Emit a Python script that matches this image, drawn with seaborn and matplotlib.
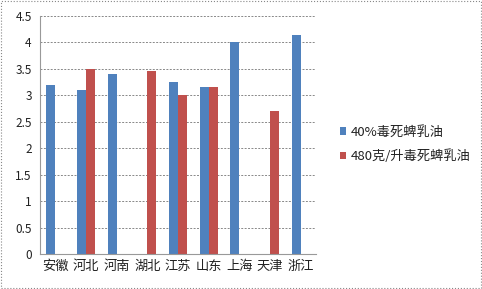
import numpy as np
import pandas as pd
import matplotlib
matplotlib.use("Agg")
import matplotlib.pyplot as plt
import seaborn as sns
from matplotlib.patches import Rectangle

provinces = ["安徽", "河北", "河南", "湖北", "江苏", "山东", "上海", "天津", "浙江"]
series_names = ["40%毒死蜱乳油", "480克/升毒死蜱乳油"]
values_40 = [3.19, 3.10, 3.39, np.nan, 3.24, 3.16, 4.0, np.nan, 4.13]
values_480 = [np.nan, 3.50, np.nan, 3.46, 3.0, 3.16, np.nan, 2.70, np.nan]
yticks = [0, 0.5, 1, 1.5, 2, 2.5, 3, 3.5, 4, 4.5]
ytick_labels = ["0", "0.5", "1", "1.5", "2", "2.5", "3", "3.5", "4", "4.5"]

df = pd.DataFrame({
    "province": provinces * 2,
    "series": [series_names[0]] * len(provinces) + [series_names[1]] * len(provinces),
    "value": values_40 + values_480,
})

sns.set_theme(style="white")
plt.rcParams["font.family"] = ["Noto Sans CJK SC", "DejaVu Sans"]

fig = plt.figure(figsize=(4.82, 2.89), dpi=100)
ax = fig.add_axes([40 / 482, 1 - 254 / 289, 276 / 482, (254 - 15.7) / 289])

palette = {series_names[0]: "#4F81BD", series_names[1]: "#C0504D"}
sns.barplot(data=df, x="province", y="value", hue="series", order=provinces,
            hue_order=series_names, palette=palette, width=0.58, ax=ax,
            saturation=1, errorbar=None, legend=True, linewidth=0)

ax.set_ylim(0, 4.5)
ax.set_xlim(-0.5, len(provinces) - 0.5)
ax.set_yticks(yticks)
ax.set_yticklabels(ytick_labels, fontsize=8.5, color="#222222")
ax.tick_params(axis="x", labelsize=9.5, length=0, pad=4, colors="#222222")
ax.tick_params(axis="y", length=0, pad=6)
ax.set_xticks(np.arange(-0.5, len(provinces), 1.0), minor=True)
ax.tick_params(axis="x", which="minor", length=3, color="#999999", width=0.8)
ax.set_xlabel("")
ax.set_ylabel("")
ax.yaxis.grid(True, color="#888888", linestyle=(0, (2, 1.5)), linewidth=0.7)
ax.set_axisbelow(True)
for s in ["top", "right"]:
    ax.spines[s].set_visible(False)
for s in ["left", "bottom"]:
    ax.spines[s].set_color("#999999")
    ax.spines[s].set_linewidth(0.8)

leg = ax.legend(loc="center left", bbox_to_anchor=(328 / 482, 0.5), bbox_transform=fig.transFigure,
                frameon=False, fontsize=9.5, handlelength=0.5, handleheight=0.5,
                handletextpad=0.3, labelspacing=0.8)
for t in leg.get_texts():
    t.set_color("#222222")

fig.patches.append(Rectangle((0.002, 0.003), 0.996, 0.994, transform=fig.transFigure,
                             fill=False, edgecolor="#888888", linestyle=":", linewidth=0.8))

fig.savefig("out.png", dpi=100)
